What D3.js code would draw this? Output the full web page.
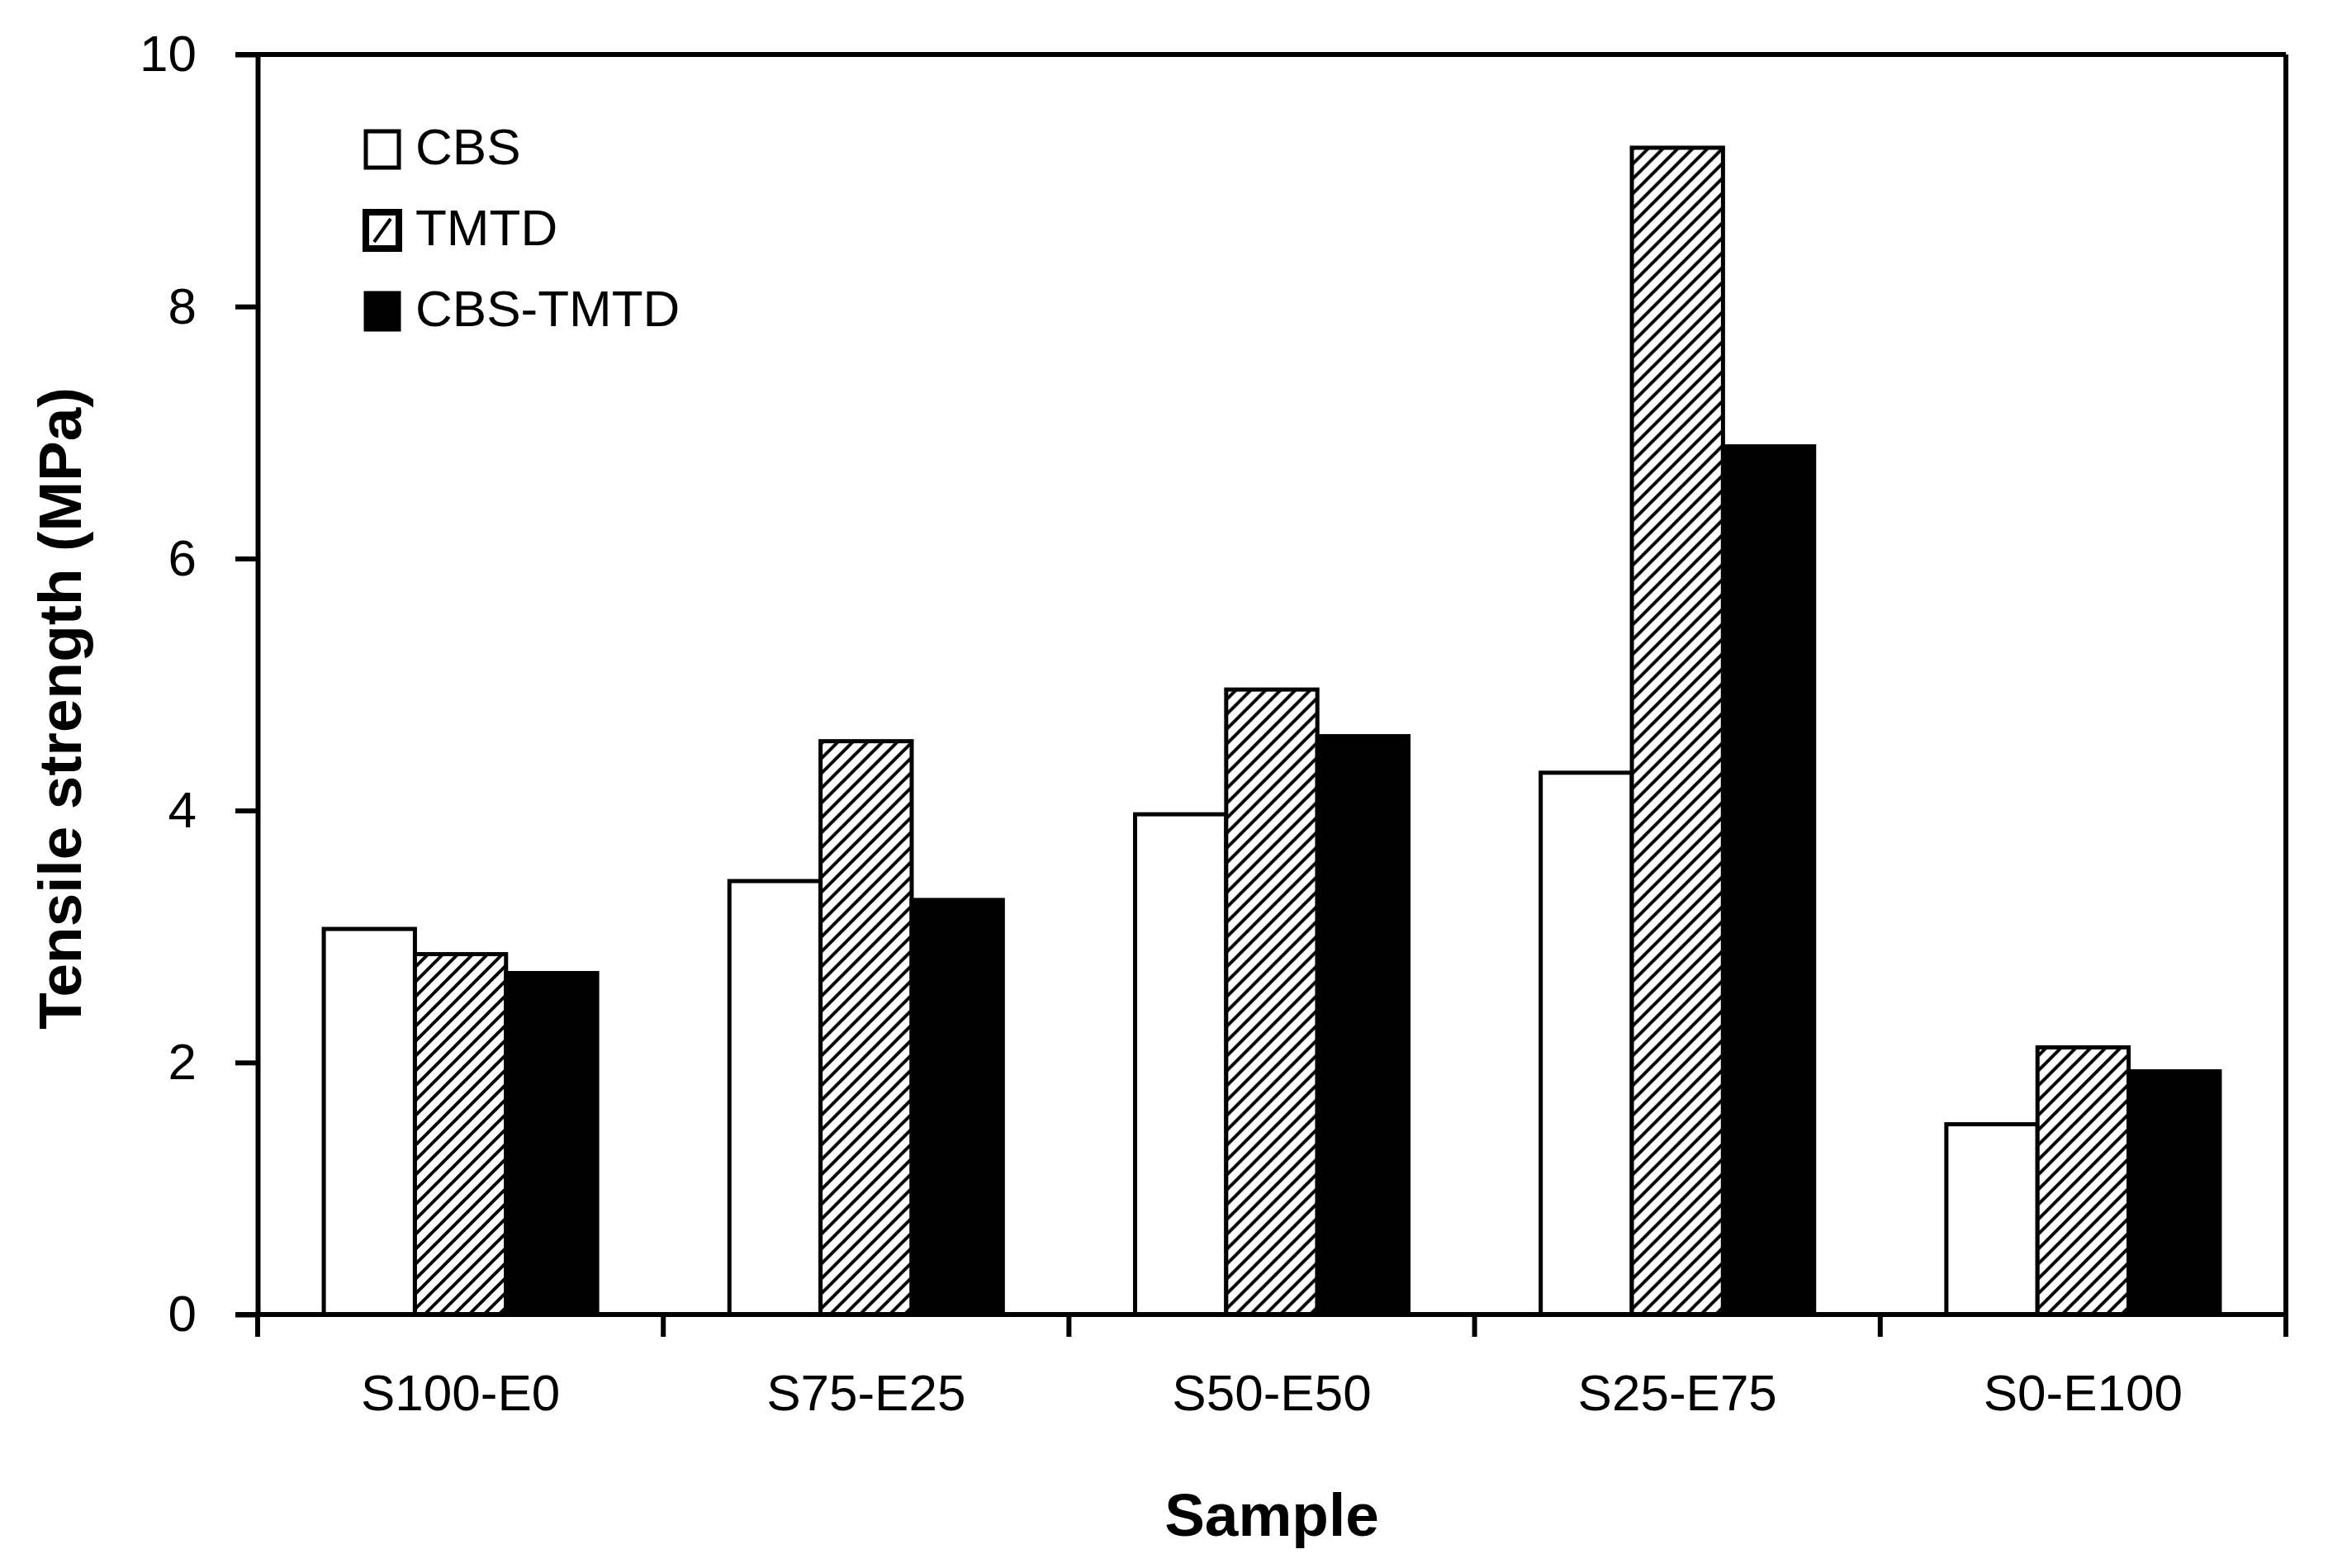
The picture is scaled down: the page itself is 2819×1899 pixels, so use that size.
<!DOCTYPE html>
<html>
<head>
<meta charset="utf-8">
<script src="https://cdn.jsdelivr.net/npm/d3@7"></script>
<style>
  html, body { margin: 0; padding: 0; background: #fff; }
  .tick-label { font-family: "Liberation Sans", Arial, sans-serif; font-size: 62px; fill: #000; }
  .title { font-family: "Liberation Sans", Arial, sans-serif; font-size: 73px; font-weight: bold; fill: #000; }
</style>
</head>
<body>
<div id="chart"></div>
<script>
// Data
const samples = ['S100-E0', 'S75-E25', 'S50-E50', 'S25-E75', 'S0-E100'];
const series = ['CBS', 'TMTD', 'CBS-TMTD'];
const cbsValues = [3.06, 3.44, 3.97, 4.30, 1.51];
const tmtdValues = [2.86, 4.55, 4.96, 9.26, 2.12];
const cbsTmtdValues = [2.71, 3.29, 4.59, 6.89, 1.93];
const yTicks = [0, 2, 4, 6, 8, 10];

const valuesBySeries = { 'CBS': cbsValues, 'TMTD': tmtdValues, 'CBS-TMTD': cbsTmtdValues };

const W = 2819, H = 1899;
const margin = { top: 66, right: 51, bottom: 307, left: 312 };
const width = W - margin.left - margin.right;
const height = H - margin.top - margin.bottom;

const svg = d3.select('#chart')
  .append('svg')
  .attr('width', W)
  .attr('height', H);

// Hatch pattern for TMTD
const defs = svg.append('defs');
const pat = defs.append('pattern')
  .attr('id', 'hatch')
  .attr('patternUnits', 'userSpaceOnUse')
  .attr('width', 18)
  .attr('height', 18);
pat.append('rect').attr('width', 18).attr('height', 18).attr('fill', '#fff');
pat.append('path')
  .attr('d', 'M-4.5,4.5 l9,-9 M0,18 l18,-18 M13.5,22.5 l9,-9')
  .attr('stroke', '#000')
  .attr('stroke-width', 4);

const g = svg.append('g')
  .attr('transform', `translate(${margin.left},${margin.top})`);

// Scales
const x0 = d3.scaleBand().domain(samples).range([0, width]).padding(0);
const x1 = d3.scaleBand().domain(series)
  .range([x0.bandwidth() * 0.163, x0.bandwidth() * 0.837]).padding(0);
const y = d3.scaleLinear().domain([0, 10]).range([height, 0]);

const fills = { 'CBS': '#fff', 'TMTD': 'url(#hatch)', 'CBS-TMTD': '#000' };

// Bars
const groups = g.selectAll('.group')
  .data(samples)
  .enter()
  .append('g')
  .attr('transform', d => `translate(${x0(d)},0)`);

groups.selectAll('rect')
  .data((d, i) => series.map(s => ({ s, v: valuesBySeries[s][i] })))
  .enter()
  .append('rect')
  .attr('x', d => x1(d.s))
  .attr('y', d => y(d.v))
  .attr('width', x1.bandwidth())
  .attr('height', d => height - y(d.v))
  .attr('fill', d => fills[d.s])
  .attr('stroke', '#000')
  .attr('stroke-width', 5);

// Y axis
const yAxis = d3.axisLeft(y).tickValues(yTicks).tickSize(27).tickSizeOuter(0).tickPadding(47);
const yg = g.append('g').call(yAxis);
yg.select('.domain').attr('stroke', '#000').attr('stroke-width', 6);
yg.selectAll('.tick line').attr('stroke', '#000').attr('stroke-width', 6);
yg.selectAll('.tick text').attr('class', 'tick-label').attr('font-family', null).attr('font-size', null);

// X axis: labels at band centres, ticks at band boundaries
const xAxis = d3.axisBottom(x0).tickSize(0).tickSizeOuter(0).tickPadding(72);
const xg = g.append('g').attr('transform', `translate(0,${height})`).call(xAxis);
xg.select('.domain').remove();
xg.selectAll('.tick text').attr('class', 'tick-label').attr('font-family', null).attr('font-size', null);

const boundaries = samples.map(d => x0(d)).concat([width]);
g.append('line')
  .attr('x1', -27).attr('x2', width)
  .attr('y1', height).attr('y2', height)
  .attr('stroke', '#000').attr('stroke-width', 6);
g.selectAll('.xtick')
  .data(boundaries)
  .enter()
  .append('line')
  .attr('x1', d => d).attr('x2', d => d)
  .attr('y1', height).attr('y2', height + 27)
  .attr('stroke', '#000').attr('stroke-width', 6);

// Frame: top and right
g.append('line')
  .attr('x1', -27).attr('x2', width)
  .attr('y1', y(10)).attr('y2', y(10))
  .attr('stroke', '#000').attr('stroke-width', 6);
g.append('line')
  .attr('x1', width).attr('x2', width)
  .attr('y1', y(10)).attr('y2', height)
  .attr('stroke', '#000').attr('stroke-width', 6);

// Axis titles
svg.append('text')
  .attr('class', 'title')
  .attr('x', margin.left + width / 2)
  .attr('y', 1860)
  .attr('text-anchor', 'middle')
  .text('Sample');

svg.append('text')
  .attr('class', 'title')
  .attr('transform', 'translate(72,858) rotate(-90)')
  .attr('text-anchor', 'middle')
  .attr('dominant-baseline', 'central')
  .text('Tensile strength (MPa)');

// Legend
const legend = svg.append('g').attr('transform', 'translate(443,181)');
const rows = legend.selectAll('.row')
  .data(series)
  .enter()
  .append('g')
  .attr('transform', (d, i) => `translate(0,${i * 98})`);

rows.append('rect')
  .attr('x', 0).attr('y', -22)
  .attr('width', 40).attr('height', 44)
  .attr('fill', d => d === 'CBS-TMTD' ? '#000' : '#fff')
  .attr('stroke', '#000')
  .attr('stroke-width', d => d === 'TMTD' ? 8 : 5);

rows.filter(d => d === 'TMTD')
  .append('line')
  .attr('x1', 10).attr('y1', 14)
  .attr('x2', 30).attr('y2', -14)
  .attr('stroke', '#000').attr('stroke-width', 4);

rows.append('text')
  .attr('class', 'tick-label')
  .attr('x', 60)
  .attr('y', -4)
  .attr('dominant-baseline', 'central')
  .text(d => d);
</script>
</body>
</html>
